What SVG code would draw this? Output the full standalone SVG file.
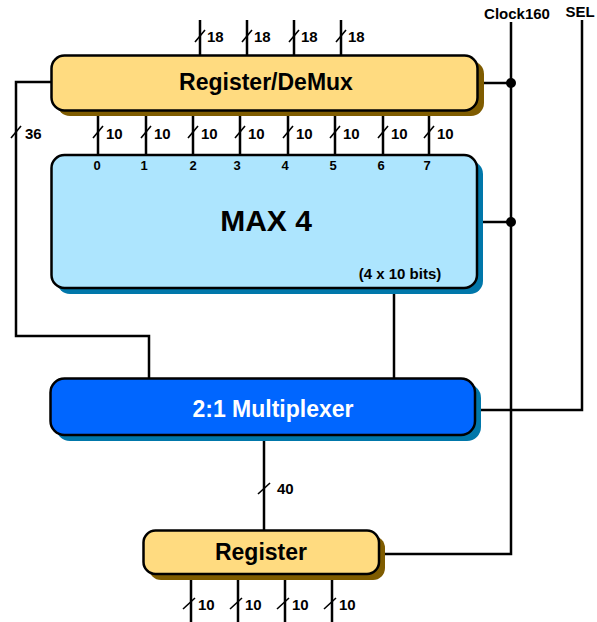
<svg xmlns="http://www.w3.org/2000/svg" width="597" height="622" viewBox="0 0 597 622">
<style>
.w{stroke:#000;stroke-width:2.5;fill:none}
.s{stroke:#000;stroke-width:1.6;fill:none}
.box{stroke:#000;stroke-width:2.5}
.t{font-family:"Liberation Sans",Arial,sans-serif;font-weight:bold;fill:#000}
.lbl{font-size:15px}
.port{font-size:13px;text-anchor:middle}
.big{font-size:23px;text-anchor:middle}
</style>
<rect width="597" height="622" fill="#fff"/>
<g id="connectors">
  <path class="w" d="M200,20V55M247,20V55M294,20V55M341,20V55"/>
  <path class="s" d="M195,42L205,30M242,42L252,30M289,42L299,30M336,42L346,30"/>
  <text class="t lbl" x="207" y="42">18</text>
  <text class="t lbl" x="254" y="42">18</text>
  <text class="t lbl" x="301" y="42">18</text>
  <text class="t lbl" x="348" y="42">18</text>
  <path class="w" d="M98,111V155M146,111V155M193,111V155M240,111V155M288,111V155M335,111V155M383,111V155M429,111V155"/>
  <path class="s" d="M93,138L103,126M141,138L151,126M188,138L198,126M235,138L245,126M283,138L293,126M330,138L340,126M378,138L388,126M424,138L434,126"/>
  <text class="t lbl" x="106" y="139">10</text>
  <text class="t lbl" x="154" y="139">10</text>
  <text class="t lbl" x="201" y="139">10</text>
  <text class="t lbl" x="248" y="139">10</text>
  <text class="t lbl" x="296" y="139">10</text>
  <text class="t lbl" x="343" y="139">10</text>
  <text class="t lbl" x="391" y="139">10</text>
  <text class="t lbl" x="437" y="139">10</text>
  <path class="w" d="M51,82H16V336H149V378"/>
  <path class="s" d="M11,138L21,126"/>
  <text class="t lbl" x="25" y="139">36</text>
  <path class="w" d="M394,288V378"/>
  <path class="w" d="M511,22V554H379"/>
  <path class="w" d="M478,83H511M477,222H511"/>
  <circle cx="511" cy="83" r="5" fill="#000"/>
  <circle cx="511" cy="222" r="5" fill="#000"/>
  <text class="t lbl" x="517" y="19" text-anchor="middle">Clock160</text>
  <path class="w" d="M582,20V410H475"/>
  <text class="t lbl" x="580" y="17" text-anchor="middle">SEL</text>
  <path class="w" d="M264,435V530"/>
  <path class="s" d="M258,494L270,483"/>
  <text class="t lbl" x="277" y="494">40</text>
  <path class="w" d="M191,574V622M238,574V622M285,574V622M332,574V622"/>
  <path class="s" d="M183,609L195,598M230,609L242,598M277,609L289,598M324,609L336,598"/>
  <text class="t lbl" x="198" y="610">10</text>
  <text class="t lbl" x="245" y="610">10</text>
  <text class="t lbl" x="292" y="610">10</text>
  <text class="t lbl" x="339" y="610">10</text>
</g>
<g id="demux">
  <rect x="57" y="61" width="427" height="55" rx="13" fill="#7f5c00"/>
  <rect class="box" x="51.5" y="55.5" width="426" height="55" rx="13" fill="#ffdb80"/>
  <text class="t big" x="266" y="90">Register/DeMux</text>
</g>
<g id="max4">
  <rect x="57" y="161" width="426" height="133" rx="13" fill="#0077aa"/>
  <rect class="box" x="51.5" y="155" width="425.5" height="133" rx="13" fill="#ade5fe"/>
  <text class="t port" x="97" y="170">0</text>
  <text class="t port" x="144" y="170">1</text>
  <text class="t port" x="193" y="170">2</text>
  <text class="t port" x="237" y="170">3</text>
  <text class="t port" x="285" y="170">4</text>
  <text class="t port" x="333" y="170">5</text>
  <text class="t port" x="381" y="170">6</text>
  <text class="t port" x="427" y="170">7</text>
  <text class="t" x="266" y="231" font-size="30" text-anchor="middle">MAX 4</text>
  <text class="t lbl" x="400" y="279" text-anchor="middle">(4 x 10 bits)</text>
</g>
<g id="mux">
  <rect x="56" y="384" width="425" height="57" rx="14" fill="#0077aa"/>
  <rect class="box" x="50.5" y="378.5" width="424.5" height="56.5" rx="14" fill="#0066ff"/>
  <text class="t big" x="273" y="417" style="fill:#fff">2:1 Multiplexer</text>
</g>
<g id="register">
  <rect x="149" y="536" width="236" height="44" rx="12" fill="#7f5c00"/>
  <rect class="box" x="143.5" y="530.5" width="235.5" height="43.5" rx="12" fill="#ffdb80"/>
  <text class="t big" x="261" y="560">Register</text>
</g>
</svg>
